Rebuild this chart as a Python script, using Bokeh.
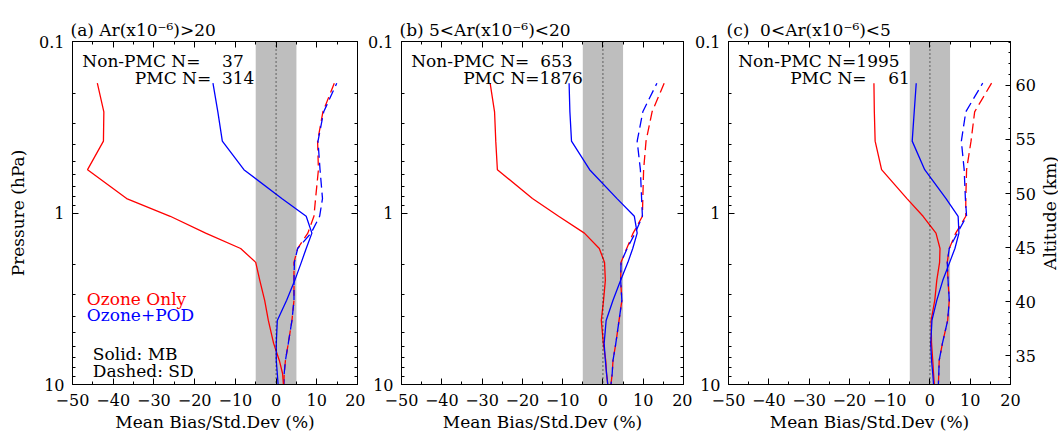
import math
from bokeh.plotting import figure
from bokeh.layouts import row
from bokeh.models import (Range1d, LinearScale, LinearAxis, LogAxis, FixedTicker,
                          CustomJSTickFormatter, Span, BoxAnnotation, Label)
from bokeh.core.properties import value
from bokeh.embed import file_html
from bokeh.resources import INLINE

FONT = "DejaVu Serif"

# ---------------- data ----------------
pressure = [0.175, 0.257, 0.381, 0.559, 0.824, 1.045, 1.31, 1.61, 1.94, 2.47,
            3.23, 4.23, 5.76, 7.24, 8.63, 10.0]

# panel (a)  Ar > 20
a_mb_oz = [-43.9, -42.3, -42.4, -46.3, -36.7, -26.0, -17.3, -8.7, -5.0, -4.0,
           -2.8, -1.9, -0.6, 0.8, 1.6, 1.8]
a_mb_pod = [-15.5, -14.3, -13.2, -7.9, 1.4, 7.4, 8.8, 7.4, 6.2, 4.6,
            2.6, 0.3, 0.05, 0.05, 0.3, 0.5]
a_sd_oz = [14.3, 11.5, 10.2, 10.4, 9.7, 9.3, 7.8, 5.3, 4.4, 4.4,
           4.4, 3.9, 3.0, 2.3, 2.0, 1.9]
a_sd_pod = [14.9, 11.7, 10.3, 10.8, 11.4, 10.7, 8.6, 5.3, 4.5, 4.4,
            4.4, 3.9, 3.0, 2.3, 2.0, 1.9]

# panel (b)  5 < Ar < 20
b_mb_oz = [-28.0, -26.9, -26.6, -26.2, -17.5, -11.0, -4.6, -0.9, 0.4, 0.6,
           0.15, -0.4, 0.1, 0.7, 0.9, 1.2]
b_mb_pod = [-8.4, -8.2, -7.8, -3.3, 3.5, 7.8, 8.5, 7.4, 6.2, 4.4,
            2.5, 0.8, 0.3, 0.6, 0.9, 1.2]
b_sd_oz = [15.2, 12.2, 10.7, 10.1, 9.9, 9.8, 7.5, 5.9, 4.5, 4.4,
           4.7, 4.0, 3.2, 2.5, 2.3, 2.0]
b_sd_pod = [13.4, 9.9, 8.5, 9.3, 9.6, 9.8, 8.0, 6.0, 4.5, 4.4,
            4.7, 4.0, 3.2, 2.5, 2.3, 2.0]

# panel (c)  0 < Ar < 5
c_mb_oz = [-13.9, -13.8, -13.6, -12.0, -5.7, -1.7, 1.5, 2.5, 2.4, 1.7,
           1.2, 0.3, 0.4, 0.7, 0.9, 1.1]
c_mb_pod = [-3.4, -3.9, -4.4, -1.3, 4.0, 7.0, 7.2, 6.2, 4.9, 3.2,
            1.7, 0.5, 0.2, 0.4, 0.7, 0.9]
c_sd_oz = [15.3, 11.1, 10.2, 9.1, 8.9, 8.9, 6.4, 4.8, 4.3, 4.5,
           4.8, 4.4, 3.1, 2.3, 2.2, 2.1]
c_sd_pod = [13.1, 8.9, 7.8, 8.5, 8.8, 9.1, 6.8, 4.8, 4.3, 4.5,
            4.8, 4.4, 3.1, 2.3, 2.2, 2.1]

titles = ["(a) Ar(x10\u207b\u2076)>20",
          "(b) 5<Ar(x10\u207b\u2076)<20",
          "(c) \u00a00<Ar(x10\u207b\u2076)<5"]
nonpmc_labels = ["Non-PMC N=\u2007\u200737", "Non-PMC N=\u2007653", "Non-PMC N=1995"]
pmc_labels = ["PMC N=\u2007314", "PMC N=1876", "PMC N=\u2007\u200761"]

x_ticks = [-50, -40, -30, -20, -10, 0, 10, 20]
x_minor = [-45, -35, -25, -15, -5, 5, 15]
p_ticks = [0.1, 1, 10]
p_minor = [0.2, 0.3, 0.4, 0.5, 0.6, 0.7, 0.8, 0.9, 2, 3, 4, 5, 6, 7, 8, 9]
alt_ticks = [35, 40, 45, 50, 55, 60]
alt_minor = [33, 34, 36, 37, 38, 39, 41, 42, 43, 44, 46, 47, 48, 49, 51, 52, 53, 54,
             56, 57, 58, 59, 61, 62, 63, 64]
alt_range = (32.36, 64.05)
band = (-5, 5)

RED = "#ff0000"
BLUE = "#0000ff"


def neg_fmt():
    return CustomJSTickFormatter(code="return tick < 0 ? '\\u2212' + Math.abs(tick) : String(tick);")


def blank_fmt():
    return CustomJSTickFormatter(code="return '';")


def style_axis(ax, labels=True, major=6, minor=3):
    ax.axis_line_color = "black"
    ax.major_tick_line_color = "black"
    ax.minor_tick_line_color = "black"
    ax.major_tick_in = major
    ax.major_tick_out = 0
    ax.minor_tick_in = minor
    ax.minor_tick_out = 0
    ax.major_label_text_font = FONT
    ax.major_label_text_font_size = "16px"
    ax.major_label_text_color = "black"
    ax.axis_label_text_font = FONT
    ax.axis_label_text_font_size = "17px"
    ax.axis_label_text_font_style = "normal"
    ax.axis_label_text_color = "black"
    if not labels:
        ax.major_label_text_font_size = "0px"
        ax.major_label_standoff = 0
        ax.formatter = blank_fmt()


def make_panel(i, width, left, right, mb_oz, mb_pod, sd_oz, sd_pod):
    p = figure(width=width, height=436,
               x_range=Range1d(-50, 20), y_range=Range1d(10, 0.1),
               y_axis_type="log", x_axis_location=None, y_axis_location=None,
               output_backend="svg", toolbar_location=None,
               min_border_left=left, min_border_right=right,
               min_border_top=41, min_border_bottom=52)
    p.grid.visible = False
    p.outline_line_color = "black"
    p.outline_line_width = 1
    p.background_fill_color = "white"
    p.border_fill_color = "white"

    p.title.text = titles[i]
    p.title.text_font = FONT
    p.title.text_font_size = "17px"
    p.title.text_font_style = "normal"
    p.title.text_color = "black"
    p.title.align = "left"
    p.title.offset = -2
    p.title.standoff = 4

    # bottom / top x axes
    xb = LinearAxis(ticker=FixedTicker(ticks=x_ticks, minor_ticks=x_minor),
                    formatter=neg_fmt(), axis_label="Mean Bias/Std.Dev (%)")
    style_axis(xb)
    xb.major_label_standoff = 9
    xb.axis_label_standoff = 3
    p.add_layout(xb, "below")
    xt = LinearAxis(ticker=FixedTicker(ticks=x_ticks, minor_ticks=x_minor))
    style_axis(xt, labels=False)
    p.add_layout(xt, "above")

    # left pressure axis
    yl = LogAxis(ticker=FixedTicker(ticks=p_ticks, minor_ticks=p_minor),
                 formatter=CustomJSTickFormatter(code="return String(tick);"))
    style_axis(yl)
    yl.major_label_standoff = 8
    if i == 0:
        yl.axis_label = "Pressure (hPa)"
        yl.axis_label_standoff = 8
    p.add_layout(yl, "left")

    # right axis
    if i < 2:
        yr = LogAxis(ticker=FixedTicker(ticks=p_ticks, minor_ticks=p_minor))
        style_axis(yr, labels=False)
        p.add_layout(yr, "right")
    else:
        p.extra_y_ranges = {"alt": Range1d(*alt_range)}
        p.extra_y_scales = {"alt": LinearScale()}
        yr = LinearAxis(y_range_name="alt",
                        ticker=FixedTicker(ticks=alt_ticks, minor_ticks=alt_minor))
        style_axis(yr, major=5, minor=2)
        yr.major_label_standoff = 5
        p.add_layout(yr, "right")

    # grey band and zero line
    p.add_layout(BoxAnnotation(left=band[0], right=band[1], fill_color="#bebebe",
                               fill_alpha=1.0, line_color=None, level="underlay"))
    p.add_layout(Span(location=0, dimension="height", line_color="black",
                      line_width=1, line_dash="1 3"))

    # curves
    p.line(sd_oz, pressure, line_color=RED, line_width=1.3, line_dash="10 5")
    p.line(sd_pod, pressure, line_color=BLUE, line_width=1.3, line_dash="10 5",
           line_dash_offset=7)
    p.line(mb_oz, pressure, line_color=RED, line_width=1.3)
    p.line(mb_pod, pressure, line_color=BLUE, line_width=1.3)

    # text
    p.add_layout(Label(x=-47.6, y=0.130, text=nonpmc_labels[i], text_font=FONT,
                       text_font_size="17px", text_baseline="middle", text_color="black"))
    p.add_layout(Label(x=-34.7, y=0.1626, text=pmc_labels[i], text_font=FONT,
                       text_font_size="17px", text_baseline="middle", text_color="black"))
    if i == 0:
        p.add_layout(Label(x=-46.5, y=3.16, text="Ozone Only", text_font=FONT,
                           text_font_size="17px", text_baseline="middle", text_color=RED))
        p.add_layout(Label(x=-46.5, y=3.95, text="Ozone+POD", text_font=FONT,
                           text_font_size="17px", text_baseline="middle", text_color=BLUE))
        p.add_layout(Label(x=-45.0, y=6.68, text="Solid: MB", text_font=FONT,
                           text_font_size="17px", text_baseline="middle", text_color="black"))
        p.add_layout(Label(x=-45.0, y=8.39, text="Dashed: SD", text_font=FONT,
                           text_font_size="17px", text_baseline="middle", text_color="black"))
    return p


pa = make_panel(0, 365, 72, 8, a_mb_oz, a_mb_pod, a_sd_oz, a_sd_pod)
pb = make_panel(1, 327, 34, 9, b_mb_oz, b_mb_pod, b_sd_oz, b_sd_pod)
pc = make_panel(2, 346, 34, 28, c_mb_oz, c_mb_pod, c_sd_oz, c_sd_pod)

# narrow strip holding the right-hand axis title, reading bottom to top
pt = figure(width=21, height=436, x_range=Range1d(0, 21), y_range=Range1d(0, 436),
            x_axis_location=None, y_axis_location=None, min_border=0,
            output_backend="svg", toolbar_location=None)
pt.grid.visible = False
pt.outline_line_color = None
pt.background_fill_color = "white"
pt.border_fill_color = "white"
pt.text(x=[11], y=[218], text=["Altitude (km)"], angle=math.pi / 2,
        text_align="center", text_baseline="middle",
        text_font=value(FONT), text_font_size="17px", text_color="black")

layout = row(pa, pb, pc, pt)
open("out.html", "w").write(file_html(layout, INLINE))
